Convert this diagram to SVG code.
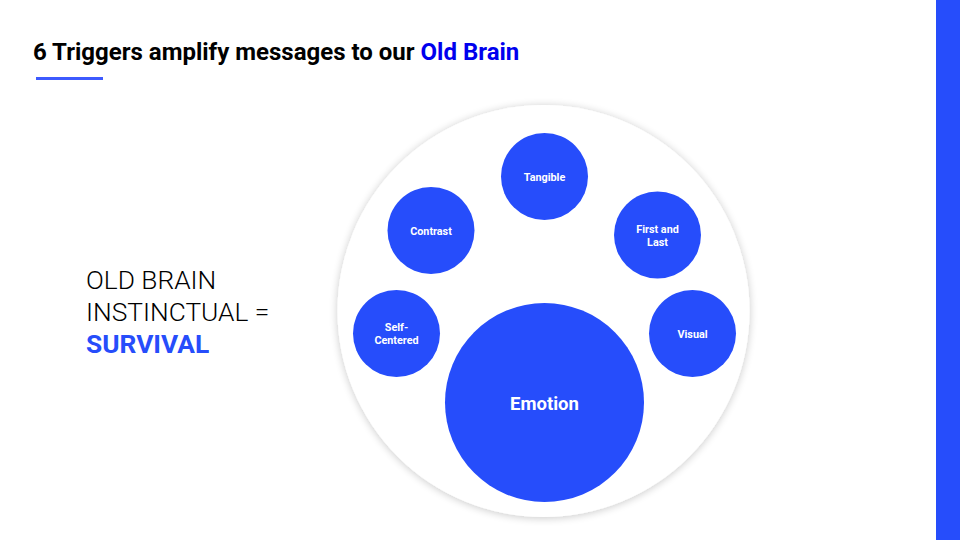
<svg xmlns="http://www.w3.org/2000/svg" width="960" height="540" viewBox="0 0 960 540">
<style>
.node circle{fill:#264DFB}
.lbl{font-family:Roboto,"Liberation Sans",sans-serif;font-weight:700;fill:#fff;text-anchor:middle}
.sm{font-size:10.8px}
</style>
<defs>
<filter id="sh" x="-10%" y="-10%" width="120%" height="120%">
<feGaussianBlur in="SourceAlpha" stdDeviation="4"/>
<feOffset dx="0" dy="1"/>
<feComponentTransfer><feFuncA type="linear" slope="0.22"/></feComponentTransfer>
<feMerge><feMergeNode/><feMergeNode in="SourceGraphic"/></feMerge>
</filter>
</defs>
<rect width="960" height="540" fill="#fff"/>
<rect x="936" y="0" width="24" height="540" fill="#264DFB"/>
<text x="33" y="60" font-family="Roboto,'Liberation Sans',sans-serif" font-weight="700" font-size="24" fill="#000">6 Triggers amplify messages to our <tspan fill="#0000EE">Old Brain</tspan></text>
<rect x="36" y="77" width="67" height="3" fill="#3D5AFE"/>
<g font-family="Roboto,'Liberation Sans',sans-serif" font-size="26.3">
<text x="86" y="289" font-weight="300" fill="#000">OLD BRAIN</text>
<text x="86" y="321" font-weight="300" fill="#000">INSTINCTUAL =</text>
<text x="86" y="353" font-weight="700" fill="#264DFB">SURVIVAL</text>
</g>
<g id="container"><circle cx="543.5" cy="311" r="206" fill="#fff" filter="url(#sh)"/></g>
<g id="connectors"></g>
<g id="tangible" class="node"><circle cx="544.5" cy="176.5" r="43.5"/><text class="lbl sm" x="544.5" y="180.5">Tangible</text></g>
<g id="contrast" class="node"><circle cx="431" cy="230.5" r="43.5"/><text class="lbl sm" x="431" y="234.5">Contrast</text></g>
<g id="firstlast" class="node"><circle cx="657.5" cy="235" r="43.5"/><text class="lbl sm" x="657.5" y="232.5">First and</text><text class="lbl sm" x="657.5" y="245.5">Last</text></g>
<g id="selfcentered" class="node"><circle cx="396.5" cy="333.5" r="43.5"/><text class="lbl sm" x="396.5" y="330.5">Self-</text><text class="lbl sm" x="396.5" y="343.5">Centered</text></g>
<g id="visual" class="node"><circle cx="692.5" cy="333.5" r="43.5"/><text class="lbl sm" x="692.5" y="337.5">Visual</text></g>
<g id="emotion" class="node"><circle cx="544.5" cy="402.5" r="99.5"/><text class="lbl" font-size="18.5" x="544.5" y="409.5">Emotion</text></g>
</svg>
